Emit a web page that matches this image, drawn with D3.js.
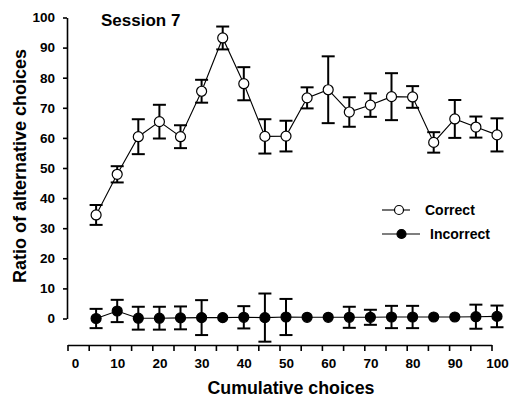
<!DOCTYPE html>
<html>
<head>
<meta charset="utf-8">
<script src="https://cdn.jsdelivr.net/npm/d3@7"></script>
<style>
  html, body { margin: 0; padding: 0; background: #fff; }
  svg { display: block; }
  text { font-family: "Liberation Sans", Arial, Helvetica, sans-serif; font-weight: bold; fill: #000; }
</style>
</head>
<body>
<script>
// ---- data ----
const choices = [5,10,15,20,25,30,35,40,45,50,55,60,65,70,75,80,85,90,95,100];
const correctMean = [34.4,47.9,60.4,65.4,60.4,75.5,93.2,78,60.5,60.6,73.3,76,68.6,70.9,73.7,73.6,58.5,66.3,63.6,61];
const correctErr  = [3.3,2.7,5.8,5.6,3.8,3.8,3.8,5.5,5.7,5.1,3.5,11.1,4.9,3.9,7.8,3.6,3.4,6.3,3.5,5.5];
const incorrectMean = [0,2.5,0.1,0.1,0.2,0.3,0.3,0.4,0.3,0.5,0.4,0.4,0.4,0.4,0.5,0.5,0.5,0.5,0.6,0.7];
const incorrectErr  = [3.2,3.7,3.8,3.8,3.8,5.8,0,3.7,8,6,0,0,3.5,2.5,3.7,3.7,0,0,4,3.6];
const yTickValues = [0,10,20,30,40,50,60,70,80,90,100];
const xLabelValues = [0,10,20,30,40,50,60,70,80,90,100];
const xTickValues = d3.range(0, 101, 5);
const seriesNames = ["Correct", "Incorrect"];
const titleText = "Session 7";
const xTitle = "Cumulative choices";
const yTitle = "Ratio of alternative choices";

// ---- layout ----
const W = 510, H = 405;
const svg = d3.select("body").append("svg").attr("width", W).attr("height", H);
svg.append("rect").attr("width", W).attr("height", H).attr("fill", "#fff");

const x = d3.scaleLinear().domain([0, 100]).range([75, 497]);
const xTick = d3.scaleLinear().domain([0, 100]).range([67.5, 491.5]);
const y = d3.scaleLinear().domain([0, 100]).range([318.5, 17.5]);

// y axis
const yAxis = svg.append("g").attr("transform", "translate(67,0)")
  .call(d3.axisLeft(y).tickValues(yTickValues).tickSize(4).tickSizeOuter(0).tickPadding(8));
yAxis.selectAll("path, line").attr("stroke", "#000").attr("stroke-width", 1.6);
yAxis.selectAll("text").style("font-size", "13.5px").style("font-family", "'Liberation Sans', Arial, sans-serif").style("font-weight", "bold");

// x axis ticks
const xAxisT = svg.append("g").attr("transform", "translate(0,345)")
  .call(d3.axisBottom(xTick).tickValues(xTickValues).tickFormat("").tickSize(6).tickSizeOuter(0));
xAxisT.selectAll("path, line").attr("stroke", "#000").attr("stroke-width", 1.6);
// x axis labels
const xAxisL = svg.append("g").attr("transform", "translate(0,345)")
  .call(d3.axisBottom(x).tickValues(xLabelValues).tickSize(0).tickPadding(13));
xAxisL.select(".domain").remove();
xAxisL.selectAll("text").style("font-size", "13.5px").style("font-family", "'Liberation Sans', Arial, sans-serif").style("font-weight", "bold");

// titles
svg.append("text").attr("x", 101).attr("y", 26).style("font-size", "17px").text(titleText);
svg.append("text").attr("x", 291).attr("y", 394).attr("text-anchor", "middle").style("font-size", "17.8px").text(xTitle);
svg.append("text").attr("transform", "translate(26,166) rotate(-90)").attr("text-anchor", "middle").style("font-size", "18px").text(yTitle);

function drawSeries(means, errs, filled) {
  const data = choices.map((c, i) => ({c, m: means[i], e: errs[i]}));
  const g = svg.append("g");
  const line = d3.line().x(d => x(d.c)).y(d => y(d.m));
  g.append("path").datum(data).attr("d", line).attr("fill", "none").attr("stroke", "#000").attr("stroke-width", 1.1);
  const eb = g.selectAll(".eb").data(data.filter(d => d.e > 0)).join("g");
  eb.append("line").attr("x1", d => x(d.c)).attr("x2", d => x(d.c))
    .attr("y1", d => y(d.m - d.e)).attr("y2", d => y(d.m + d.e)).attr("stroke", "#000").attr("stroke-width", 2);
  eb.append("line").attr("x1", d => x(d.c) - 6.5).attr("x2", d => x(d.c) + 6.5)
    .attr("y1", d => y(d.m + d.e)).attr("y2", d => y(d.m + d.e)).attr("stroke", "#000").attr("stroke-width", 2);
  eb.append("line").attr("x1", d => x(d.c) - 6.5).attr("x2", d => x(d.c) + 6.5)
    .attr("y1", d => y(d.m - d.e)).attr("y2", d => y(d.m - d.e)).attr("stroke", "#000").attr("stroke-width", 2);
  g.selectAll("circle").data(data).join("circle")
    .attr("cx", d => x(d.c)).attr("cy", d => y(d.m)).attr("r", 5)
    .attr("fill", filled ? "#000" : "#fff").attr("stroke", "#000").attr("stroke-width", 1.2);
}
drawSeries(correctMean, correctErr, false);
drawSeries(incorrectMean, incorrectErr, true);

// legend
const legend = [
  {name: seriesNames[0], filled: false, y: 210, x1: 382, x2: 410, cx: 399, tx: 425},
  {name: seriesNames[1], filled: true, y: 234, x1: 382, x2: 420, cx: 401.5, tx: 430}
];
const lg = svg.append("g").selectAll("g").data(legend).join("g");
lg.append("line").attr("x1", d => d.x1).attr("x2", d => d.x2).attr("y1", d => d.y).attr("y2", d => d.y)
  .attr("stroke", "#000").attr("stroke-width", 1.1);
lg.append("circle").attr("cx", d => d.cx).attr("cy", d => d.y).attr("r", 4.5)
  .attr("fill", d => d.filled ? "#000" : "#fff").attr("stroke", "#000").attr("stroke-width", 1.2);
lg.append("text").attr("x", d => d.tx).attr("y", d => d.y + 5).style("font-size", "14px").text(d => d.name);
</script>
</body>
</html>
